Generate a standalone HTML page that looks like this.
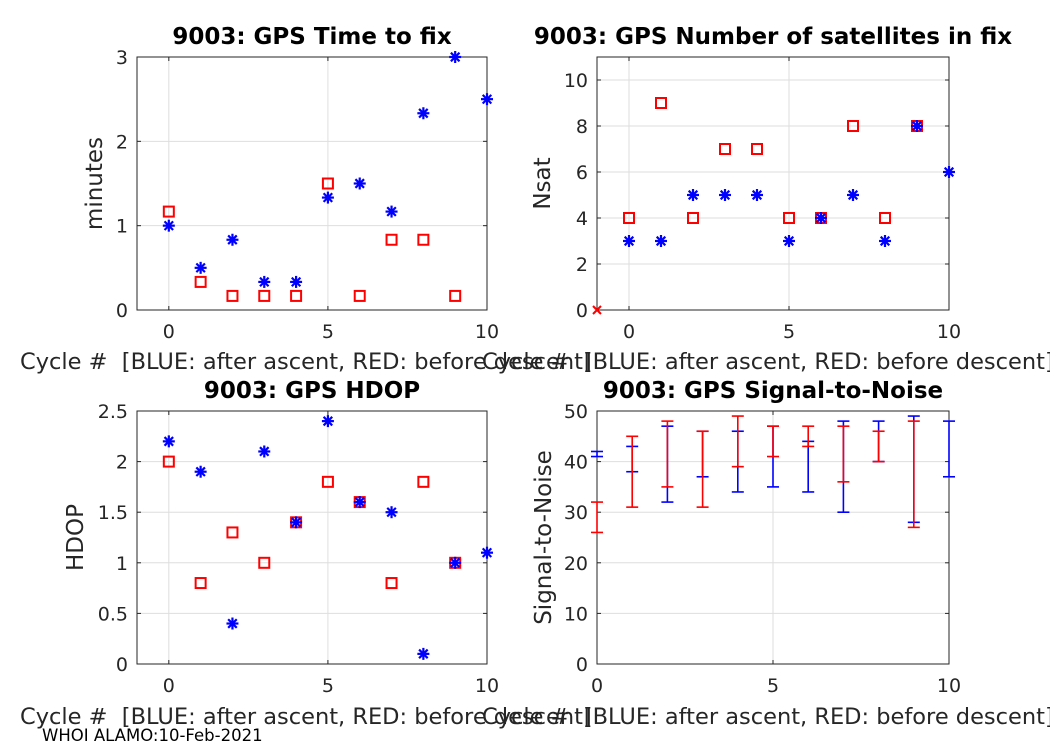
<!DOCTYPE html>
<html><head><meta charset="utf-8"><style>
body{margin:0;background:#fff}
svg{display:block;font-family:"DejaVu Sans","Liberation Sans",sans-serif}
text{white-space:pre}
</style></head><body>
<svg id="fig" width="1050" height="750" viewBox="0 0 1050 750" xml:space="preserve"></svg>
<script>
const cyclesB=[0,1,2,3,4,5,6,7,8,9,10];
const cyclesR=[0,1,2,3,4,5,6,7,8,9];
const ttfBlue=[1,0.5,0.833,0.333,0.333,1.333,1.5,1.167,2.333,3,2.5];
const ttfRed=[1.167,0.333,0.167,0.167,0.167,1.5,0.167,0.833,0.833,0.167];
const nsatBlue=[3,3,5,5,5,3,4,5,3,8,6];
const nsatRed=[4,9,4,7,7,4,4,8,4,8];
const hdopBlue=[2.2,1.9,0.4,2.1,1.4,2.4,1.6,1.5,0.1,1.0,1.1];
const hdopRed=[2.0,0.8,1.3,1.0,1.4,1.8,1.6,0.8,1.8,1.0];
const snBlueMax=[42,43,47,46,46,47,44,48,48,49,48];
const snBlueMin=[41,38,32,37,34,35,34,30,40,28,37];
const snRedMax=[32,45,48,46,49,47,47,47,46,48];
const snRedMin=[26,31,35,31,39,41,43,36,40,27];

const S=document.getElementById('fig');const NS='http://www.w3.org/2000/svg';
function el(t,a,p){const e=document.createElementNS(NS,t);for(const k in a)e.setAttribute(k,a[k]);(p||S).appendChild(e);return e;}
function txt(s,a,p){const e=el('text',a,p);e.textContent=s;return e;}

function axes(name,L,R,T,B,x0,x1,y0,y1,xt,yt,title,ylab,ylx,xlab,xlx,xly){
  const g=el('g',{});
  const X=v=>L+(v-x0)/(x1-x0)*(R-L), Y=v=>B-(v-y0)/(y1-y0)*(B-T);
  el('rect',{x:L,y:T,width:R-L,height:B-T,fill:'#fff'},g);
  xt.forEach(v=>{el('line',{x1:X(v),x2:X(v),y1:T,y2:B,stroke:'#dedede'},g);});
  yt.forEach(v=>{el('line',{x1:L,x2:R,y1:Y(v),y2:Y(v),stroke:'#dedede'},g);});
  el('rect',{x:L,y:T,width:R-L,height:B-T,fill:'none',stroke:'#262626'},g);
  xt.forEach(v=>{el('line',{x1:X(v),x2:X(v),y1:B,y2:B-4,stroke:'#262626'},g);el('line',{x1:X(v),x2:X(v),y1:T,y2:T+4,stroke:'#262626'},g);
    const t=txt(String(v),{x:X(v),y:B+28,'font-size':19,fill:'#262626','text-anchor':'middle'},g);});
  yt.forEach(v=>{el('line',{x1:L,x2:L+4,y1:Y(v),y2:Y(v),stroke:'#262626'},g);el('line',{x1:R,x2:R-4,y1:Y(v),y2:Y(v),stroke:'#262626'},g);
    const t=txt(String(v),{x:L-9,y:Y(v)+7,'font-size':19,fill:'#262626','text-anchor':'end'},g);});
  const tt=txt(title,{x:(L+R)/2,y:T-13,'font-size':23,'font-weight':'bold','text-anchor':'middle',fill:'#000'},g);
  
  const yl=txt(ylab,{x:ylx,y:(T+B)/2,'font-size':23,fill:'#262626','text-anchor':'middle',transform:`rotate(-90 ${ylx} ${(T+B)/2})`},g);
  
  const xl=txt(xlab,{x:xlx,y:xly,'font-size':22.5,fill:'#262626'},g);
  
  return {g,X,Y};
}
function star(a,x,y){const g=el('g',{stroke:'#0000ff','stroke-width':2.2},a.g);
  const r=6;el('line',{x1:x-r,x2:x+r,y1:y,y2:y},g);el('line',{x1:x,x2:x,y1:y-r,y2:y+r},g);
  el('line',{x1:x-4.3,x2:x+4.3,y1:y-4.3,y2:y+4.3},g);el('line',{x1:x-4.3,x2:x+4.3,y1:y+4.3,y2:y-4.3},g);}
function sq(a,x,y){const r=el('rect',{x:x-5,y:y-5,width:10,height:10,fill:'none',stroke:'#ff0000','stroke-width':2},a.g);
  }
const xlab='Cycle #  [BLUE: after ascent, RED: before descent]';

const a1=axes('time-to-fix-chart',137,487,57,310,-1,10,0,3,[0,5,10],[0,1,2,3],'9003: GPS Time to fix','minutes',102,xlab,20,369);
cyclesR.forEach((c,i)=>sq(a1,a1.X(c),a1.Y(ttfRed[i])));
cyclesB.forEach((c,i)=>star(a1,a1.X(c),a1.Y(ttfBlue[i])));

const a2=axes('nsat-chart',597,949,57,310,-1,10,0,11,[0,5,10],[0,2,4,6,8,10],'9003: GPS Number of satellites in fix','Nsat',550,xlab,482,369);
cyclesR.forEach((c,i)=>sq(a2,a2.X(c),a2.Y(nsatRed[i])));
cyclesB.forEach((c,i)=>star(a2,a2.X(c),a2.Y(nsatBlue[i])));
const xm=el('g',{stroke:'#ff0000','stroke-width':2},a2.g);
el('line',{x1:a2.X(-1)-4,x2:a2.X(-1)+4,y1:a2.Y(0)-4,y2:a2.Y(0)+4},xm);el('line',{x1:a2.X(-1)-4,x2:a2.X(-1)+4,y1:a2.Y(0)+4,y2:a2.Y(0)-4},xm);

const a3=axes('hdop-chart',137,487,411,664,-1,10,0,2.5,[0,5,10],[0,0.5,1,1.5,2,2.5],'9003: GPS HDOP','HDOP',83,xlab,20,724);
cyclesR.forEach((c,i)=>sq(a3,a3.X(c),a3.Y(hdopRed[i])));
cyclesB.forEach((c,i)=>star(a3,a3.X(c),a3.Y(hdopBlue[i])));

const a4=axes('snr-chart',597,949,411,664,0,10,0,50,[0,5,10],[0,10,20,30,40,50],'9003: GPS Signal-to-Noise','Signal-to-Noise',551,xlab,482,724);
function bar(a,c,lo,hi,col,name){const g=el('g',{stroke:col,'stroke-width':1.6},a.g);
  const x=a.X(c);el('line',{x1:x,x2:x,y1:a.Y(lo),y2:a.Y(hi)},g);
  el('line',{x1:x-6,x2:x+6,y1:a.Y(lo),y2:a.Y(lo)},g);el('line',{x1:x-6,x2:x+6,y1:a.Y(hi),y2:a.Y(hi)},g);}
cyclesB.forEach((c,i)=>bar(a4,c,snBlueMin[i],snBlueMax[i],'#0000ff','blue-snr-range'));
cyclesR.forEach((c,i)=>bar(a4,c,snRedMin[i],snRedMax[i],'#ff0000','red-snr-range'));

const f=txt('WHOI ALAMO:10-Feb-2021',{x:42,y:741,'font-size':16.5,fill:'#000'});

</script>
</body></html>
